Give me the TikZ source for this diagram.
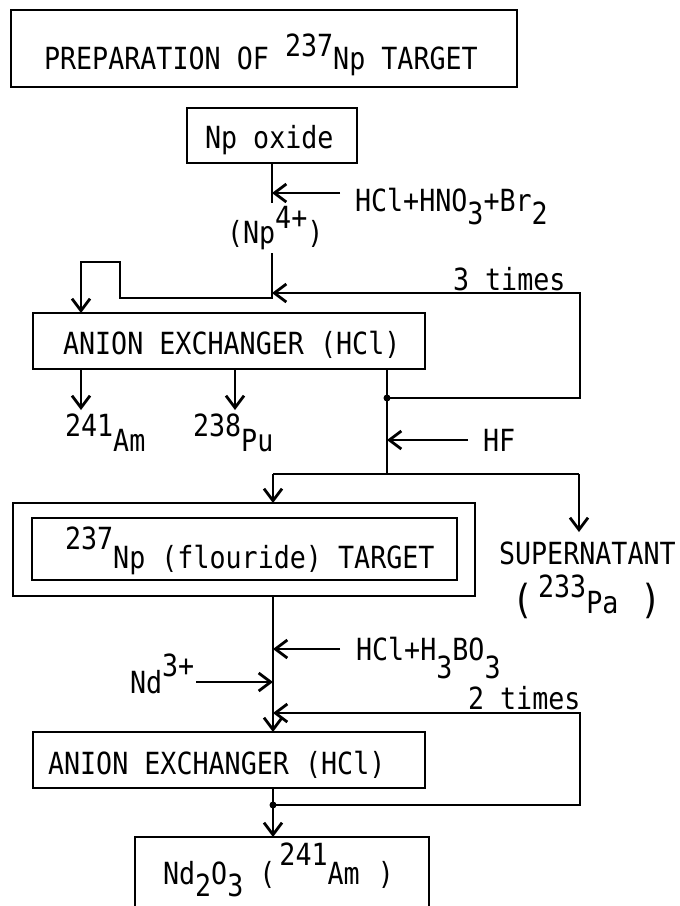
\documentclass[tikz,border=0pt]{standalone}
\usepackage{fontspec}
\newfontfamily\tw[FakeStretch=0.875]{DejaVu Sans Mono}
\usetikzlibrary{arrows.meta}
\newcommand\supr[2][15pt]{\raisebox{#1}{#2}}
\newcommand\subr[2][15pt]{\raisebox{-#1}{#2}}
\newcommand\bigpar[1]{{\fontsize{40pt}{42pt}\selectfont #1}}
\begin{document}
\begin{tikzpicture}[x=1pt,y=-1pt,line width=2.8pt,
  box/.style={draw,inner sep=0pt,outer sep=0pt},
  txt/.style={inner sep=0pt,outer sep=0pt,anchor=base west,font=\tw\fontsize{30.5pt}{32pt}\selectfont},
  arr/.style={-{Straight Barb[length=12pt,width=18pt]}},
  dot/.style={fill,circle,inner sep=0pt,minimum size=7pt}]
\useasboundingbox (0,0) rectangle (680,906);
\fill[white] (0,0) rectangle (680,906);

% boxes
\node[box,minimum width=506pt,minimum height=77pt] (title) at (264,48.5) {};
\node[box,minimum width=170pt,minimum height=55pt] (npox) at (272,135.5) {};
\node[box,minimum width=392pt,minimum height=56pt] (an1) at (229,341) {};
\node[box,minimum width=462pt,minimum height=93pt] (outer) at (244,549.5) {};
\node[box,minimum width=425pt,minimum height=62pt] (inner) at (244.5,549) {};
\node[box,minimum width=392pt,minimum height=56pt] (an2) at (229,760) {};
\node[box,minimum width=294pt,minimum height=110pt] (ndbox) at (282,892) {};

% texts
\node[txt] (titletxt) at (44,69) {PREPARATION OF \supr[13pt]{237}Np TARGET};
\node[txt] (npoxtxt) at (205,148) {Np oxide};
\node[txt] (hcl1) at (355,211) {HCl+HNO\subr[13pt]{3}+Br\subr[13pt]{2}};
\node[txt] (np4) at (227,243) {(Np\supr{4+})};
\node[txt] (t3) at (453,290) {3 times};
\node[txt] (an1txt) at (63,354) {ANION EXCHANGER (HCl)};
\node[txt] (am) at (65,436) {241\subr{Am}};
\node[txt] (pu) at (193,436) {238\subr{Pu}};
\node[txt] (hf) at (483,451) {HF};
\node[txt] (fl) at (65,568) {\supr[19pt]{237}Np (flouride) TARGET};
\node[txt] (sup) at (499,564) {SUPERNATANT};
\node[txt] (pa) at (512,613) {\bigpar{(}\hspace{5pt}\supr[16pt]{233}Pa\hspace{22pt}\bigpar{)}};
\node[txt] (hcl2) at (356,660) {HCl+H\subr[18pt]{3}BO\subr[18pt]{3}};
\node[txt] (nd3) at (130,693) {Nd\supr[17pt]{3+}};
\node[txt] (t2) at (468,709) {2 times};
\node[txt] (an2txt) at (48,774) {ANION EXCHANGER (HCl)};
\node[txt] (nd2o3) at (163,884) {Nd\subr[12pt]{2}O\subr[12pt]{3} (\hspace{4pt}\supr[19pt]{241}Am\hspace{18pt})};

% upper connectors
\coordinate (a1) at (272,203);
\draw (npox.south) -- (a1);
\coordinate (hclA) at (340,193);
\draw[arr] (hclA) -- (hclA -| npox.south);
\coordinate (b1) at (272,253);
\coordinate (b2) at (272,298);
\coordinate (l2) at (120,298);
\coordinate (l3) at (120,262);
\coordinate (l4) at (81,262);
\draw[arr] (b1) -- (b2) -- (l2) -- (l3) -- (l4) -- (l4 |- an1.north);
\coordinate (j2) at (387,398);
\coordinate (r1) at (580,398);
\coordinate (r2) at (580,293);
\coordinate (t1) at (272,293);
\draw[arr] (j2) -- (r1) -- (r2) -- (t1);
\coordinate (br) at (387,474);
\draw (j2 |- an1.south) -- (br);
\node[dot] (d2) at (j2) {};
\coordinate (amTip) at (81,410);
\coordinate (puTip) at (235,410);
\draw[arr] (amTip |- an1.south) -- (amTip);
\draw[arr] (puTip |- an1.south) -- (puTip);
\coordinate (hfA) at (468,440);
\draw[arr] (hfA) -- (hfA -| j2);
\coordinate (bl) at (273,474);
\coordinate (brr) at (579,474);
\draw (bl) -- (brr);
\draw[arr] (bl) -- (bl |- outer.north);
\coordinate (supTip) at (579,532);
\draw[arr] (brr) -- (supTip);

% lower connectors
\coordinate (v2) at (273,713);
\draw[arr] (v2 |- outer.south) -- (v2 |- an2.north);
\coordinate (hcl2A) at (340,649);
\draw[arr] (hcl2A) -- (hcl2A -| v2);
\coordinate (ndA) at (196,682);
\draw[arr] (ndA) -- (ndA -| v2);
\coordinate (j4) at (273,805);
\coordinate (s1) at (580,805);
\coordinate (s2) at (580,713);
\draw[arr] (j4) -- (s1) -- (s2) -- (v2);
\node[dot] (d4) at (j4) {};
\draw[arr] (j4 |- an2.south) -- (j4 |- ndbox.north);
\end{tikzpicture}
\end{document}
